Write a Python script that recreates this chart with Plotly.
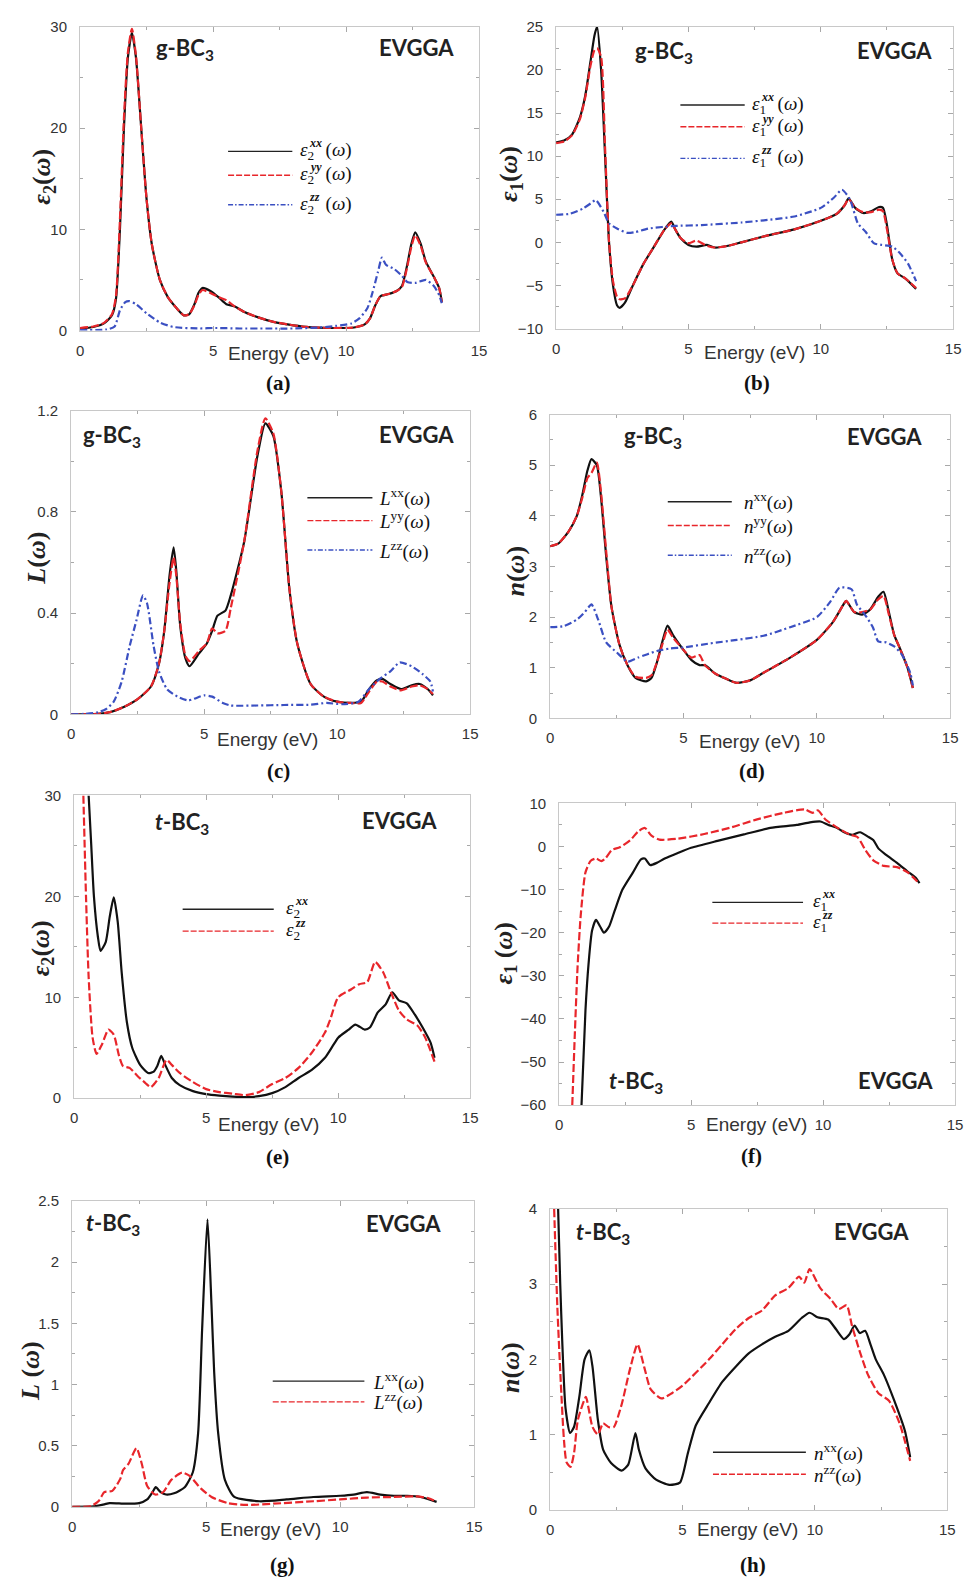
import plotly.graph_objects as go

W, H = 973, 1585

# ---------------- data ----------------
# (a) g-BC3 eps2
a_x_xx = [0,0.5,0.9,1.2,1.35,1.5,1.65,1.8,1.95,2.1,2.3,2.5,2.7,3.0,3.3,3.6,3.9,4.1,4.3,4.45,4.6,4.9,5.2,5.5,5.8,6.2,6.7,7.2,7.8,8.5,9.5,10.3,10.7,10.9,11.1,11.3,11.6,11.9,12.1,12.3,12.45,12.6,12.8,13.0,13.3,13.5,13.6]
a_y_xx = [0.2,0.35,0.7,1.5,3.1,10,20,27,29.4,27,20,13,8.5,5,3.3,2.3,1.5,1.6,2.6,3.7,4.2,3.9,3.3,2.6,2.4,1.8,1.3,0.9,0.6,0.35,0.25,0.3,0.6,1.2,2.5,3.4,3.6,3.9,4.4,6.5,8.5,9.7,8.6,6.8,5.3,4.2,2.8]
a_x_yy = a_x_xx
a_y_yy = [0.25,0.4,0.75,1.6,3.4,11,21,27.5,29.8,27.2,20,13,8.5,5,3.3,2.3,1.5,1.6,2.5,3.5,4.0,3.7,3.3,3.0,2.4,1.8,1.3,0.9,0.6,0.35,0.25,0.3,0.6,1.2,2.5,3.4,3.6,3.9,4.3,6.3,8.2,9.4,8.4,6.7,5.3,4.2,2.8]
a_x_zz = [0,1.0,1.3,1.5,1.7,1.85,2.1,2.5,3.0,3.5,4.5,5.0,6,7,8,9,9.6,10.2,10.5,10.8,11.0,11.2,11.35,11.5,11.8,12.1,12.3,12.6,13.0,13.3,13.5,13.6]
a_y_zz = [0.05,0.1,0.4,2.0,2.8,2.9,2.6,1.7,0.8,0.35,0.2,0.25,0.2,0.2,0.2,0.3,0.45,0.7,1.2,2.2,3.8,5.8,7.2,6.5,6.1,5.4,4.8,4.7,5.0,4.4,3.5,2.7]

# (b) g-BC3 eps1
b_x_xx = [0,0.3,0.6,0.9,1.1,1.3,1.45,1.55,1.7,1.85,2.0,2.15,2.3,2.4,2.6,2.9,3.3,3.7,4.1,4.35,4.5,4.7,5.0,5.3,5.7,6.0,6.5,7,8,9,10,10.6,10.9,11.05,11.3,11.6,11.9,12.2,12.35,12.5,12.7,12.9,13.2,13.6]
b_y_xx = [11.6,11.8,12.5,14.5,17,21,24,25,20,10,0,-5,-7.3,-7.6,-7,-5,-2.5,-0.5,1.5,2.4,1.5,0.5,-0.3,-0.5,-0.3,-0.6,-0.4,0,0.8,1.5,2.5,3.3,4.3,5.1,4,3.4,3.6,4.1,4.0,2,-2,-3.6,-4.2,-5.4]
b_x_yy = b_x_xx
b_y_yy = [11.5,11.7,12.4,14.3,16.8,20.5,22.3,22.5,21.5,11,0,-4.5,-6.3,-6.6,-6.5,-5,-2.5,-0.5,1.5,2.2,1.5,0.5,-0.1,0.2,-0.4,-0.6,-0.4,0,0.8,1.5,2.5,3.3,4.3,5.0,4,3.5,3.5,3.8,3.6,1.5,-2,-3.6,-4.2,-5.3]
b_x_zz = [0,0.5,1.0,1.3,1.5,1.8,2.0,2.3,2.7,3.0,3.5,4.5,5.5,7,8,9,10,10.5,10.8,11.1,11.4,11.7,12.0,12.3,12.7,13.0,13.3,13.6]
b_y_zz = [3.2,3.3,3.9,4.5,4.9,3.5,2.2,1.6,1.1,1.2,1.6,1.9,2.0,2.3,2.6,3.0,4.0,5.2,6.1,5.0,2.2,1.2,-0.1,-0.3,-0.5,-1.3,-2.5,-4.5]

# (c) g-BC3 loss function
c_x_xx = [0,1.0,1.5,2.0,2.5,3.0,3.3,3.5,3.7,3.85,3.95,4.1,4.3,4.45,4.8,5.1,5.3,5.5,5.8,6.0,6.5,7.0,7.3,7.6,7.9,8.2,8.5,9.0,9.5,10.0,10.5,10.9,11.2,11.5,11.7,12.0,12.4,12.8,13.1,13.4,13.6]
c_y_xx = [0,0.002,0.01,0.03,0.06,0.11,0.2,0.33,0.55,0.66,0.57,0.35,0.22,0.19,0.24,0.28,0.33,0.39,0.41,0.47,0.68,1.02,1.15,1.1,0.88,0.5,0.28,0.12,0.07,0.05,0.045,0.05,0.1,0.135,0.14,0.12,0.1,0.115,0.12,0.1,0.075]
c_x_yy = c_x_xx
c_y_yy = [0,0.002,0.01,0.03,0.06,0.11,0.2,0.33,0.52,0.62,0.55,0.36,0.23,0.21,0.25,0.28,0.34,0.32,0.33,0.42,0.68,1.04,1.17,1.11,0.88,0.5,0.28,0.12,0.07,0.05,0.045,0.045,0.09,0.13,0.13,0.11,0.095,0.11,0.115,0.1,0.08]
c_x_zz = [0,0.5,1.0,1.3,1.6,1.9,2.2,2.45,2.7,2.85,3.1,3.3,3.6,4.0,4.4,5.0,5.3,5.7,6.0,7,8,9,9.6,10.2,10.8,11.2,11.6,12.0,12.35,12.8,13.2,13.5,13.6]
c_y_zz = [0,0.002,0.008,0.02,0.05,0.13,0.27,0.37,0.47,0.44,0.27,0.17,0.1,0.07,0.055,0.075,0.07,0.045,0.035,0.035,0.037,0.038,0.045,0.04,0.05,0.1,0.14,0.17,0.205,0.19,0.16,0.13,0.09]

# (d) g-BC3 refractive index
d_x_xx = [0,0.3,0.7,1.0,1.2,1.4,1.55,1.75,1.9,2.1,2.3,2.6,2.9,3.2,3.6,3.8,4.0,4.2,4.4,4.6,5.0,5.3,5.6,5.8,6.2,6.6,7.0,7.5,8.0,9,10,10.6,11.0,11.1,11.4,11.7,12.0,12.3,12.5,12.7,12.9,13.1,13.4,13.6]
d_y_xx = [3.4,3.45,3.7,4.0,4.4,4.9,5.12,5.0,4.4,3.2,2.2,1.45,1.05,0.8,0.73,0.8,1.1,1.5,1.83,1.65,1.35,1.15,1.05,1.05,0.88,0.78,0.7,0.75,0.9,1.2,1.55,1.9,2.25,2.32,2.1,2.05,2.15,2.4,2.5,2.1,1.65,1.4,1.0,0.6]
d_x_yy = d_x_xx
d_y_yy = [3.4,3.45,3.7,4.0,4.35,4.75,4.85,5.05,4.5,3.3,2.2,1.45,1.05,0.82,0.8,0.85,1.1,1.45,1.75,1.6,1.35,1.2,1.25,1.05,0.88,0.78,0.7,0.75,0.9,1.2,1.55,1.9,2.25,2.32,2.1,2.1,2.15,2.35,2.42,2.05,1.65,1.4,1.0,0.6]
d_x_zz = [0,0.5,1.0,1.3,1.55,1.8,2.1,2.5,2.9,3.3,4.0,4.5,5.0,6,7,8,9,10,10.5,10.85,11.3,11.5,11.8,12.1,12.3,12.6,12.9,13.2,13.5,13.6]
d_y_zz = [1.8,1.82,1.95,2.1,2.25,1.95,1.5,1.3,1.12,1.2,1.33,1.38,1.4,1.48,1.55,1.63,1.8,2.0,2.3,2.58,2.55,2.25,2.05,1.8,1.52,1.5,1.42,1.25,0.9,0.65]

# (e) t-BC3 eps2
e_x_xx = [0.55,0.65,0.75,0.9,1.0,1.2,1.35,1.5,1.65,1.8,2.0,2.2,2.5,2.8,3.0,3.15,3.3,3.45,3.7,4.0,4.5,5.0,5.5,6.0,6.5,7.0,7.5,8.0,8.5,9.0,9.5,9.8,10.0,10.4,10.65,11.0,11.2,11.5,11.8,12.05,12.3,12.6,12.9,13.2,13.5,13.65]
e_y_xx = [30,25,20,16,14.6,15.5,18,19.9,17.5,12.5,7.5,5.0,3.3,2.5,2.6,3.2,4.2,3.3,2.0,1.3,0.7,0.4,0.25,0.15,0.1,0.2,0.5,1.1,2.0,2.8,4.0,5.2,6.0,6.8,7.3,6.8,7.0,8.5,9.3,10.5,9.7,9.4,8.3,7.0,5.5,4.0]
e_x_zz = [0.35,0.45,0.55,0.7,0.85,1.05,1.3,1.5,1.7,1.85,2.1,2.4,2.7,2.9,3.2,3.5,3.7,4.0,4.5,5.0,5.5,6.0,6.5,7.0,7.5,8.0,8.5,9.0,9.5,9.7,10.0,10.5,10.8,11.1,11.4,11.7,12.0,12.3,12.6,13.0,13.3,13.65]
e_y_zz = [30,20,12,6,4.4,5.3,6.8,6.3,4.2,3.2,3.0,2.2,1.5,1.1,2.0,3.8,3.3,2.5,1.6,0.9,0.6,0.45,0.3,0.6,1.4,2.0,3.0,4.5,6.5,7.8,10.0,10.8,11.3,11.5,13.5,12.5,10.5,8.7,7.8,7.2,6.0,3.6]

# (f) t-BC3 eps1
f_x_xx = [0.85,1.0,1.12,1.25,1.4,1.55,1.7,1.9,2.1,2.4,2.8,3.1,3.25,3.45,3.7,4.0,4.5,5.0,6,7,8,9,9.5,9.9,10.2,10.5,10.8,11.1,11.4,11.7,11.9,12.1,12.4,12.8,13.2,13.5,13.65]
f_y_xx = [-60,-38,-27,-19.5,-17,-18.5,-20,-18.5,-15,-10,-6,-3,-2.8,-4.3,-3.8,-2.8,-1.5,-0.3,1.3,2.8,4.3,5.0,5.6,5.8,5.0,4.4,3.3,2.7,3.3,2.3,1.5,-0.5,-2,-3.8,-5.8,-7.2,-8.5]
f_x_zz = [0.5,0.6,0.7,0.82,1.0,1.2,1.4,1.6,1.75,2.0,2.3,2.7,3.0,3.25,3.5,3.8,4.5,5.5,6.5,7.5,8.5,9.3,9.6,9.8,10.1,10.5,11.0,11.3,11.6,11.9,12.3,12.8,13.2,13.65]
f_y_zz = [-60,-43,-28,-16,-6,-3.3,-2.8,-3.4,-2.8,-0.8,-0.2,1.5,3.5,4.3,2.5,1.6,1.8,2.9,4.4,6.3,7.8,8.6,7.8,8.4,6.2,4.5,2.8,2.2,-0.8,-3.2,-4.5,-4.8,-6,-8.6]

# (g) t-BC3 loss function
g_x_xx = [0,0.8,1.2,1.4,2.0,2.5,2.8,3.0,3.12,3.3,3.5,3.8,4.2,4.5,4.7,4.85,5.05,5.2,5.3,5.45,5.7,6.05,7,8,9,10,10.5,11.0,11.5,12,12.5,13,13.6]
g_y_xx = [0,0.003,0.02,0.03,0.025,0.03,0.06,0.12,0.16,0.12,0.1,0.11,0.16,0.28,0.6,1.45,2.35,1.65,1.1,0.6,0.22,0.08,0.045,0.06,0.08,0.09,0.1,0.12,0.1,0.09,0.09,0.08,0.04]
g_x_zz = [0,0.7,1.0,1.2,1.5,1.8,1.9,2.1,2.4,2.6,2.8,3.1,3.4,3.7,4.1,4.4,4.8,5.2,5.8,6.5,7.5,9,10,11,12,12.8,13.3,13.6]
g_y_zz = [0,0.005,0.05,0.12,0.13,0.23,0.3,0.35,0.48,0.35,0.17,0.1,0.12,0.22,0.28,0.25,0.15,0.08,0.03,0.015,0.025,0.045,0.06,0.075,0.08,0.085,0.07,0.04]

# (h) t-BC3 refractive index
h_x_xx = [0.3,0.38,0.46,0.58,0.75,0.9,1.1,1.3,1.48,1.6,1.8,2.0,2.3,2.7,2.95,3.22,3.35,3.6,4.0,4.5,4.9,5.2,5.5,6.0,6.5,7.0,7.5,8.0,8.5,9.0,9.5,9.8,10.1,10.5,10.8,11.1,11.3,11.5,11.7,11.9,12.1,12.3,12.6,13.0,13.4,13.6]
h_y_xx = [4.0,3.0,2.2,1.35,1.02,1.1,1.5,2.0,2.12,1.9,1.2,0.8,0.62,0.52,0.6,1.02,0.8,0.55,0.4,0.33,0.36,0.75,1.12,1.42,1.7,1.9,2.08,2.2,2.3,2.38,2.55,2.62,2.56,2.53,2.4,2.27,2.33,2.45,2.35,2.38,2.2,2.0,1.8,1.45,1.05,0.7]
h_x_zz = [0.15,0.27,0.4,0.52,0.62,0.77,0.9,1.05,1.35,1.45,1.6,1.8,2.0,2.2,2.4,2.7,3.0,3.3,3.55,3.8,4.2,4.6,5.0,6.0,6.5,7.0,7.5,8.0,8.5,9.0,9.4,9.6,9.8,10.2,10.6,10.9,11.2,11.4,11.7,12.0,12.4,12.8,13.2,13.6]
h_y_zz = [4.0,2.7,1.7,0.93,0.63,0.57,0.75,1.2,1.5,1.35,1.1,1.0,1.15,1.1,1.1,1.4,1.85,2.2,1.9,1.6,1.48,1.55,1.65,2.0,2.2,2.4,2.55,2.65,2.85,2.95,3.1,3.02,3.2,2.95,2.8,2.67,2.72,2.45,2.1,1.8,1.55,1.45,1.15,0.65]

x_ticks = [0, 5, 10, 15]

# ---------------- styles ----------------
BLACK, RED, BLUE = "#111111", "#e8262b", "#3b50c2"
STY = {"k": dict(color=BLACK, width=2.2, dash="solid"),
       "r": dict(color=RED, width=2.2, dash="8px,3px"),
       "b": dict(color=BLUE, width=2.2, dash="7px,3px,2px,3px")}
LEG = {"k": dict(color="#222222", width=1.4, dash="solid"),
       "r": dict(color=RED, width=1.4, dash="6px,2px"),
       "b": dict(color=BLUE, width=1.4, dash="5px,2px,1.5px,2px")}

E2 = "<i>ε</i><sub>2</sub>"
E1 = "<i>ε</i><sub>1</sub>"
W_ = "(<i>ω</i>)"
SP = "&#8201;&#8201;&#8201;"   # room for the stacked superscript

# legend entries: (main text, stacked superscript or None)
panels = [
    dict(box=(77, 481, 18, 325), yr=[0, 30], yt=[0, 10, 20, 30], ym=5,
         series=[("k", a_x_xx, a_y_xx), ("r", a_x_yy, a_y_yy), ("b", a_x_zz, a_y_zz)],
         leg=(0.371, 0.532, 0.547, [0.590, 0.511, 0.414]),
         legtxt=[(E2 + SP + W_, "xx"), (E2 + SP + W_, "yy"), (E2 + SP + W_, "zz")],
         ytitle=E2 + W_, ytpos=(40, 170), mat="g-BC<sub>3</sub>", matpos=(183, 40),
         evpos=(418, 39), letter="(a)", letpos=(278, 378), enpos=(278, 348)),
    dict(box=(559, 961, 18, 323), yr=[-10, 25], yt=[-10, -5, 0, 5, 10, 15, 20, 25], ym=2.5,
         series=[("k", b_x_xx, b_y_xx), ("r", b_x_yy, b_y_yy), ("b", b_x_zz, b_y_zz)],
         leg=(0.313, 0.475, 0.488, [0.741, 0.669, 0.564]),
         legtxt=[(E1 + SP + W_, "xx"), (E1 + SP + W_, "yy"), (E1 + SP + W_, "zz")],
         ytitle=E1 + W_, ytpos=(513, 167), mat="g-BC<sub>3</sub>", matpos=(668, 43),
         evpos=(902, 42), letter="(b)", letpos=(762, 378), enpos=(760, 347)),
    dict(box=(68, 472, 406, 713), yr=[0, 1.2], yt=[0, 0.4, 0.8, 1.2], ym=0.2,
         series=[("k", c_x_xx, c_y_xx), ("r", c_x_yy, c_y_yy), ("b", c_x_zz, c_y_zz)],
         leg=(0.592, 0.755, 0.767, [0.713, 0.638, 0.541]),
         legtxt=[("<i>L</i><sup>xx</sup>" + W_, None), ("<i>L</i><sup>yy</sup>" + W_, None),
                 ("<i>L</i><sup>zz</sup>" + W_, None)],
         ytitle="<i>L</i>" + W_, ytpos=(32, 555), mat="g-BC<sub>3</sub>", matpos=(109, 432),
         evpos=(418, 430), letter="(c)", letpos=(278, 770), enpos=(267, 738)),
    dict(box=(553, 958, 410, 717), yr=[0, 6], yt=[0, 1, 2, 3, 4, 5, 6], ym=0.5,
         series=[("k", d_x_xx, d_y_xx), ("r", d_x_yy, d_y_yy), ("b", d_x_zz, d_y_zz)],
         leg=(0.294, 0.454, 0.479, [0.713, 0.635, 0.537]),
         legtxt=[("<i>n</i><sup>xx</sup>" + W_, None), ("<i>n</i><sup>yy</sup>" + W_, None),
                 ("<i>n</i><sup>zz</sup>" + W_, None)],
         ytitle="<i>n</i>" + W_, ytpos=(518, 568), mat="g-BC<sub>3</sub>", matpos=(657, 433),
         evpos=(892, 432), letter="(d)", letpos=(757, 770), enpos=(755, 740)),
    dict(box=(71, 472, 795, 1101), yr=[0, 30], yt=[0, 10, 20, 30], ym=5,
         series=[("k", e_x_xx, e_y_xx), ("r", e_x_zz, e_y_zz)],
         leg=(0.274, 0.504, 0.529, [0.624, 0.552]),
         legtxt=[(E2, "xx"), (E2, "zz")],
         ytitle=E2 + W_, ytpos=(38, 950), mat="<i>t</i>-BC<sub>3</sub>", matpos=(180, 823),
         evpos=(400, 820), letter="(e)", letpos=(277, 1160), enpos=(268, 1128)),
    dict(box=(562, 963, 803, 1108), yr=[-60, 10], yt=[-60, -50, -40, -30, -20, -10, 0, 10], ym=5,
         series=[("k", f_x_xx, f_y_xx), ("r", f_x_zz, f_y_zz)],
         leg=(0.387, 0.616, 0.636, [0.672, 0.603]),
         legtxt=[(E1, "xx"), (E1, "zz")],
         ytitle=E1 + " " + W_, ytpos=(507, 955), mat="<i>t</i>-BC<sub>3</sub>", matpos=(640, 1085),
         evpos=(903, 1083), letter="(f)", letpos=(757, 1159), enpos=(762, 1128)),
    dict(box=(69, 476, 1205, 1514), yr=[0, 2.5], yt=[0, 0.5, 1, 1.5, 2, 2.5], ym=0.25,
         series=[("k", g_x_xx, g_y_xx), ("r", g_x_zz, g_y_zz)],
         leg=(0.499, 0.727, 0.744, [0.411, 0.343]),
         legtxt=[("<i>L</i><sup>xx</sup>" + W_, None), ("<i>L</i><sup>zz</sup>" + W_, None)],
         ytitle="<i>L</i> " + W_, ytpos=(27, 1377), mat="<i>t</i>-BC<sub>3</sub>", matpos=(110, 1228),
         evpos=(404, 1228), letter="(g)", letpos=(282, 1573), enpos=(270, 1537)),
    dict(box=(553, 955, 1213, 1517), yr=[0, 4], yt=[0, 1, 2, 3, 4], ym=0.5,
         series=[("k", h_x_xx, h_y_xx), ("r", h_x_zz, h_y_zz)],
         leg=(0.410, 0.644, 0.659, [0.191, 0.118]),
         legtxt=[("<i>n</i><sup>xx</sup>" + W_, None), ("<i>n</i><sup>zz</sup>" + W_, None)],
         ytitle="<i>n</i>" + W_, ytpos=(513, 1373), mat="<i>t</i>-BC<sub>3</sub>", matpos=(606, 1237),
         evpos=(878, 1236), letter="(h)", letpos=(758, 1573), enpos=(753, 1537)),
]

fig = go.Figure()
SANS = "Liberation Sans, Arial, sans-serif"
SERIF = "Liberation Serif, Times New Roman, serif"
LABEL = "Lato, Open Sans, sans-serif"


def px(x):
    return x / W


def py(y):
    return 1 - y / H


annotations = []
shapes = []
for i, p in enumerate(panels, start=1):
    sfx = "" if i == 1 else str(i)
    xr, yr = "x" + sfx, "y" + sfx
    l, r, t, b = p["box"]
    common = dict(showline=True, linecolor="#c8c8c8", linewidth=1, mirror="allticks",
                  ticks="inside", ticklen=5, tickcolor="#a8a8a8", tickwidth=1,
                  showgrid=False, zeroline=False,
                  tickfont=dict(family=SANS, size=15, color="#333333"))
    fig.layout["xaxis" + sfx] = dict(common, domain=[px(l), px(r)], range=[0, 15],
                                     tickvals=x_ticks, anchor=yr, ticklabelstandoff=6,
                                     minor=dict(ticks="inside", ticklen=3, tickcolor="#a8a8a8", dtick=2.5))
    fig.layout["yaxis" + sfx] = dict(common, domain=[py(b), py(t)], range=p["yr"],
                                     tickvals=p["yt"], anchor=xr, ticklabelstandoff=9,
                                     minor=dict(ticks="inside", ticklen=3, tickcolor="#a8a8a8", dtick=p["ym"]))
    for key, xs, ys in p["series"]:
        fig.add_trace(go.Scatter(x=xs, y=ys, mode="lines", line=dict(STY[key], shape="spline", smoothing=0.6),
                                 xaxis=xr, yaxis=yr, showlegend=False, hoverinfo="skip"))
    # legend samples
    x0, x1, tx, ylist = p["leg"]
    for (key, _, _), yy, (txt, sup) in zip(p["series"], ylist, p["legtxt"]):
        shapes.append(dict(type="line", xref=xr + " domain", yref=yr + " domain",
                           x0=x0, x1=x1, y0=yy, y1=yy, line=LEG[key]))
        annotations.append(dict(xref=xr + " domain", yref=yr + " domain", x=tx, y=yy,
                                text=txt, showarrow=False, xanchor="left", yanchor="middle",
                                font=dict(family=SERIF, size=19, color="#111111")))
        if sup:
            annotations.append(dict(xref=xr + " domain", yref=yr + " domain", x=tx, y=yy,
                                    xshift=9, yshift=8,
                                    text="<b><i>" + sup + "</i></b>", showarrow=False,
                                    xanchor="left", yanchor="middle",
                                    font=dict(family=SERIF, size=12, color="#111111")))

    def centered(pos, text, font, **kw):
        annotations.append(dict(xref="paper", yref="paper", x=px(pos[0]), y=py(pos[1]),
                                text=text, showarrow=False, xanchor="center", yanchor="middle",
                                font=font, **kw))

    centered(p["ytpos"], "<b>" + p["ytitle"] + "</b>", dict(family=SERIF, size=26, color="#222222"),
             textangle=-90)
    centered(p["matpos"], "<b>" + p["mat"] + "</b>", dict(family=LABEL, size=22, color="#222222"))
    centered(p["evpos"], "<b>EVGGA</b>", dict(family=LABEL, size=22, color="#222222"))
    centered(p["enpos"], "Energy (eV)", dict(family=SANS, size=19, color="#333333"))
    centered(p["letpos"], "<b>" + p["letter"] + "</b>", dict(family=SERIF, size=21, color="#111111"))

fig.update_layout(width=W, height=H, margin=dict(l=0, r=0, t=0, b=0),
                  paper_bgcolor="white", plot_bgcolor="white", showlegend=False,
                  annotations=annotations, shapes=shapes)

fig.write_html("out.html")
